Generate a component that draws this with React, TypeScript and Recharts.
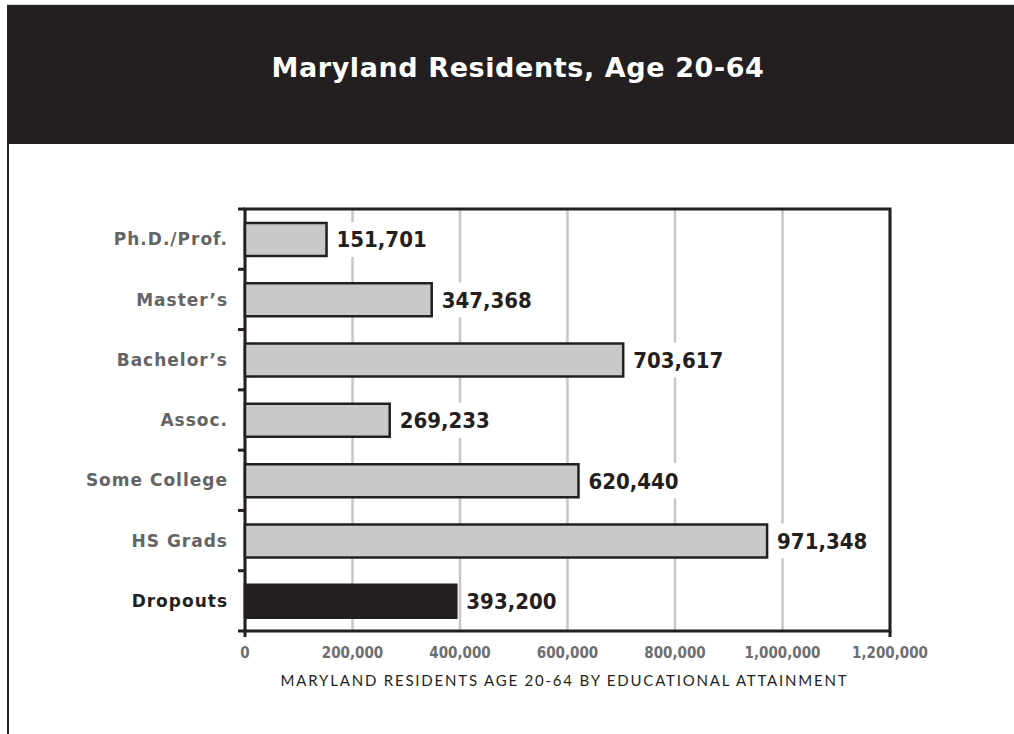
import React from "react";
import { BarChart, Bar, XAxis, YAxis, CartesianGrid, ReferenceArea, LabelList, Cell } from "recharts";

const categories = ["Ph.D./Prof.", "Master\u2019s", "Bachelor\u2019s", "Assoc.", "Some College", "HS Grads", "Dropouts"];
const residents = [151701, 347368, 703617, 269233, 620440, 971348, 393200];
const xTicks = [0, 200000, 400000, 600000, 800000, 1000000, 1200000];
const xMax = 1200000;
const highlightCategory = "Dropouts";
const chartTitle = "Maryland Residents, Age 20-64";
const axisTitle = "MARYLAND RESIDENTS AGE 20-64 BY EDUCATIONAL ATTAINMENT";

const data = categories.map((c, i) => ({ category: c, residents: residents[i] }));

const INK = "#231f20";
const BAR_GRAY = "#c8c9cb";
const GRID = "#c6c7c9";
const LABEL_GRAY = "#636466";
const TICK_GRAY = "#6d6e70";
const CONDENSED = "'DejaVu Sans Condensed', 'Liberation Sans Narrow', 'DejaVu Sans', sans-serif";
const WIDE = "'DejaVu Sans', sans-serif";

const fmt = (v: number) => v.toLocaleString("en-US");

const YTick = (props: any) => {
  const { x, y, payload, index } = props;
  const half = payload && typeof payload.offset === "number" && payload.offset > 0 ? payload.offset : 30.14;
  const isHi = payload.value === highlightCategory;
  const last = index === categories.length - 1;
  return (
    <g>
      <line x1={x - 7} x2={x} y1={y - half} y2={y - half} stroke={INK} strokeWidth={3} />
      {last && <line x1={x - 7} x2={x} y1={y + half} y2={y + half} stroke={INK} strokeWidth={3} />}
      <text
        x={x - 17}
        y={y}
        dy="0.36em"
        textAnchor="end"
        fontFamily={WIDE}
        fontWeight={700}
        fontSize={17}
        letterSpacing={1}
        fill={isHi ? INK : LABEL_GRAY}
      >
        {payload.value}
      </text>
    </g>
  );
};

const XTick = (props: any) => {
  const { x, y, payload, index } = props;
  const edge = index === 0 || index === xTicks.length - 1;
  return (
    <g>
      {edge && <line x1={x} x2={x} y1={y} y2={y + 6} stroke={INK} strokeWidth={3} />}
      <text
        x={x}
        y={y + 27}
        textAnchor="middle"
        fontFamily={CONDENSED}
        fontStretch="condensed"
        fontWeight={700}
        fontSize={15}
        fill={TICK_GRAY}
      >
        {fmt(payload.value)}
      </text>
    </g>
  );
};

const AxisTitle = (props: any) => {
  const vb = props.viewBox || { x: 245, y: 631, width: 645, height: 70 };
  return (
    <text
      x={vb.x + vb.width / 2 - 3}
      y={vb.y + 55}
      textAnchor="middle"
      fontFamily="Lato, 'DejaVu Sans', sans-serif"
      fontWeight={400}
      fontSize={15}
      letterSpacing={1.8}
      fill={INK}
    >
      {axisTitle}
    </text>
  );
};

const ValueLabel = (props: any) => {
  const { x, y, width, height, value } = props;
  const fs = 22;
  const s = fmt(Number(value));
  let w = 0;
  for (const ch of s) w += ch === "," ? 0.34 * fs : 0.6 * fs;
  const tx = Number(x) + Number(width) + 10;
  return (
    <g>
      <rect x={tx - 4} y={Number(y) - 1} width={w + 8} height={Number(height) + 2} fill="#ffffff" />
      <text
        x={tx}
        y={Number(y) + Number(height) / 2}
        dy="0.36em"
        fontFamily={CONDENSED}
        fontStretch="condensed"
        fontWeight={700}
        fontSize={fs}
        fill={INK}
      >
        {s}
      </text>
    </g>
  );
};

export default function App() {
  return (
    <div style={{ position: "absolute", left: 0, top: 0, width: 1014, height: 734, background: "#fff", overflow: "hidden" }}>
      <svg width={1014} height={734} style={{ position: "absolute", left: 0, top: 0 }}>
        <line x1={7} x2={1014} y1={4.5} y2={4.5} stroke="#dcdcdc" strokeWidth={1} />
        <rect x={7} y={5} width={1007} height={139} fill={INK} />
        <rect x={7} y={5} width={2} height={729} fill={INK} />
        <text
          x={518}
          y={77}
          textAnchor="middle"
          fontFamily={WIDE}
          fontWeight={700}
          fontSize={27}
          letterSpacing={0.6}
          fill="#ffffff"
        >
          {chartTitle}
        </text>
      </svg>
      <div style={{ position: "absolute", left: 0, top: 0 }}>
        <BarChart
          width={1014}
          height={734}
          data={data}
          layout="vertical"
          margin={{ top: 209, right: 124, bottom: 33, left: 0 }}
          barCategoryGap={0}
        >
          <CartesianGrid horizontal={false} vertical={true} stroke={GRID} strokeWidth={2.5} />
          <XAxis
            type="number"
            domain={[0, xMax]}
            ticks={xTicks}
            interval={0}
            tick={<XTick />}
            tickSize={0}
            tickMargin={0}
            tickLine={false}
            axisLine={false}
            height={70}
            label={<AxisTitle />}
          />
          <YAxis
            type="category"
            dataKey="category"
            width={245}
            tick={<YTick />}
            tickSize={0}
            tickMargin={0}
            tickLine={false}
            axisLine={false}
            interval={0}
          />
          <Bar dataKey="residents" barSize={33} fill={BAR_GRAY} stroke={INK} strokeWidth={2.5} isAnimationActive={false}>
            {data.map((d) => (
              <Cell
                key={d.category}
                fill={d.category === highlightCategory ? INK : BAR_GRAY}
                stroke={INK}
              />
            ))}
            <LabelList dataKey="residents" content={<ValueLabel />} />
          </Bar>
          <ReferenceArea x1={0} x2={xMax} fill="none" fillOpacity={0} stroke={INK} strokeWidth={3} ifOverflow="visible" />
        </BarChart>
      </div>
    </div>
  );
}
